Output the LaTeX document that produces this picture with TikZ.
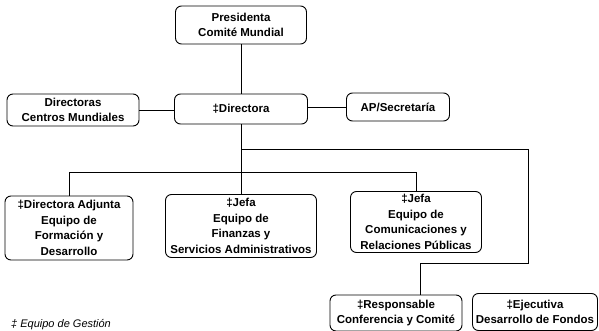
\documentclass[tikz,border=0pt]{standalone}
\usepackage{fontspec}
\setmainfont{Liberation Sans}
\usepackage{tikz}

\begin{document}
\begin{tikzpicture}[
    box/.style={draw,line width=0.9pt,rounded corners=6\sz,align=center,inner sep=0pt,
        font=\bfseries\fontsize{11.5}{15.5}\selectfont},
    link/.style={line width=0.9pt}]
    \newlength{\sz}
    \setlength{\sz}{1pt}
    \useasboundingbox (0\sz,0\sz) rectangle (599\sz,-331\sz);
    % Presidenta
    \node[box,minimum width=131\sz,minimum height=38\sz] (pres) at (241\sz,-25\sz)
        {Presidenta\\Comité Mundial};
    % Directora
    \node[box,minimum width=133\sz,minimum height=30\sz] (dir) at (241\sz,-109\sz)
        {‡Directora};
    \node[box,minimum width=132\sz,minimum height=32\sz] (dcm) at (73\sz,-110\sz)
        {Directoras\\Centros Mundiales};
    \node[box,minimum width=103\sz,minimum height=28\sz] (ap) at (398\sz,-107\sz)
        {AP/Secretaría};
    % Equipos
    \node[box,minimum width=128\sz,minimum height=64\sz] (adj) at (69\sz,-228\sz)
        {‡Directora Adjunta\\Equipo de\\Formación y\\Desarrollo};
    \node[box,minimum width=151\sz,minimum height=63\sz] (fin) at (241\sz,-226\sz)
        {‡Jefa\\Equipo de\\Finanzas y\\Servicios Administrativos};
    \node[box,minimum width=131\sz,minimum height=61\sz] (com) at (416\sz,-222\sz)
        {‡Jefa\\Equipo de\\Comunicaciones y\\Relaciones Públicas};
    \node[box,minimum width=132\sz,minimum height=36\sz] (resp) at (396\sz,-313\sz)
        {‡Responsable\\Conferencia y Comité};
    \node[box,minimum width=125\sz,minimum height=37\sz] (ejec) at (535\sz,-312\sz)
        {‡Ejecutiva\\Desarrollo de Fondos};
    % Connectors
    \coordinate (bus1) at (528\sz,-149\sz);
    \coordinate (bus2) at (0\sz,-172\sz);
    \coordinate (bus3) at (528\sz,-263\sz);
    \coordinate (drop) at (420\sz,-263\sz);
    \draw[link] (pres.south) -- (dir.north);
    \draw[link] (dcm.east) -- (dcm.east -| dir.west);
    \draw[link] (ap.west -| dir.east) -- (ap.west);
    \draw[link] (dir.south) -- (fin.north);
    \draw[link] (adj.north) -- (adj.north |- bus2) -| (com.north);
    \draw[link] (dir.south |- bus1) -- (bus1) -- (bus3) -- (drop) -- (drop |- resp.north);
    % Legend
    \node[anchor=base west,inner sep=0pt,font=\itshape\fontsize{11}{13}\selectfont] (legend)
        at (11\sz,-327\sz) {‡ Equipo de Gestión};
\end{tikzpicture}
\end{document}
